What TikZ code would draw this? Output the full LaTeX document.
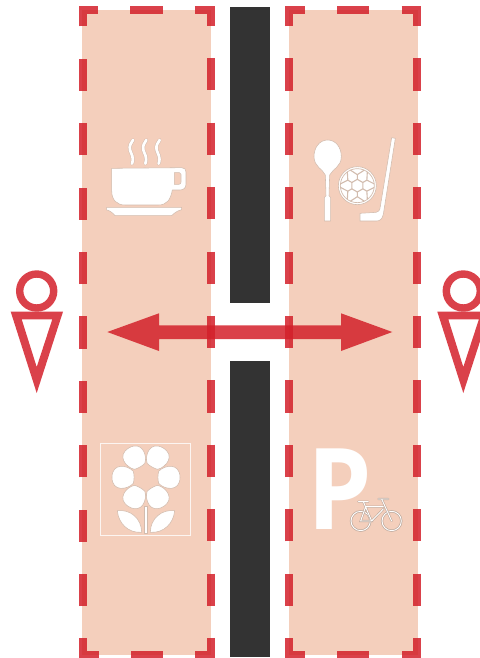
\documentclass[tikz,border=0pt]{standalone}
\usepackage{fontspec}
\newfontfamily\signfont{Open Sans}
\definecolor{peach}{HTML}{F4CFBC}
\definecolor{signred}{HTML}{D3202A}
\definecolor{roadgrey}{HTML}{333333}
\definecolor{iconline}{HTML}{D2BCAE}
\tikzset{
  panel/.style={fill=peach,draw=none},
  road/.style={fill=roadgrey,draw=none},
  dashframe/.style={draw=signred,draw opacity=.85,line width=8pt,miter limit=10,
    dash pattern=on 32.2pt off 32.2pt,dash phase=16.1pt},
  redshape/.style={fill=signred,fill opacity=.85,draw=none},
  headring/.style={draw=signred,draw opacity=.85,line width=7.4pt,fill=none},
  icon/.style={fill=white,draw=iconline,line width=.55pt,line join=round},
  zoomA/.style={shift={(90,120)},x=.3333pt,y=-.3333pt},
  zoomB/.style={shift={(300,125)},x=.3333pt,y=-.3333pt},
  zoomC/.style={shift={(90,435)},x=.3333pt,y=-.3333pt},
  zoomD/.style={shift={(300,435)},x=.3333pt,y=-.3333pt},
  bikeedge/.style={draw=iconline!90!black,line width=2.1pt,line cap=round,fill=none},
  bikecore/.style={draw=white,line width=.9pt,line cap=round,fill=none},
}
\begin{document}
\begin{tikzpicture}[x=1pt,y=-1pt]
\useasboundingbox (0,0) rectangle (479,658);
% panels
\fill[panel] (82,10) rectangle (211,655);
\fill[panel] (289,10) rectangle (418,655);
% road
\fill[road] (230,7) rectangle (270,303);
\fill[road] (230,361) rectangle (270,657);
% dashed frames
\draw[dashframe] (146.6,9.7) -- (210.7,9.7) -- (210.7,654.5) -- (82.5,654.5) -- (82.5,9.7) -- cycle;
\draw[dashframe] (353.3,9.7) -- (417.3,9.7) -- (417.3,654.5) -- (289.3,654.5) -- (289.3,9.7) -- cycle;
% crossing arrow
\fill[redshape] (107.3,332) -- (159,313.3) -- (159,325.3) -- (341,325.3) -- (341,313.3)
  -- (392.3,332) -- (341,351) -- (341,339) -- (159,339) -- (159,351) -- cycle;
% pedestrians
\foreach \px in {36.7,463.3}{
  \draw[headring] (\px,291) circle[radius=17];
  \fill[redshape,even odd rule] (\px-26,311.7) -- (\px+26.3,311.7) -- (\px,393) -- cycle
     (\px-15,319.3) -- (\px+15.6,319.3) -- (\px,367) -- cycle;
}
% cup
\begin{scope}[zoomA]
  \foreach \sx in {125,165,205}{
    \draw[iconline,line width=3.7pt,line cap=round] (\sx+4,60) .. controls (\sx-2,68) and (\sx-8,78) .. (\sx-5,90) .. controls (\sx-2,102) and (\sx+8,110) .. (\sx+1,131);
    \draw[white,line width=2.7pt,line cap=round] (\sx+4,60) .. controls (\sx-2,68) and (\sx-8,78) .. (\sx-5,90) .. controls (\sx-2,102) and (\sx+8,110) .. (\sx+1,131);
  }
  \draw[icon,even odd rule] (65,145) -- (275,143) .. controls (284,143) and (288,148) .. (288,156)
    -- (288,193) .. controls (288,204) and (280,210) .. (270,210) -- (247,210)
    .. controls (242,240) and (230,255) .. (205,255) -- (105,255)
    .. controls (80,255) and (65,240) .. (65,212) -- cycle
    (253,158) -- (268,158) .. controls (272,158) and (273,160) .. (273,163) -- (273,186)
    .. controls (273,191) and (270,193) .. (266,193) -- (253,193) -- cycle;
  \draw[icon] (50,262) -- (275,262) -- (275,269) .. controls (262,272) and (252,280) .. (245,287)
    -- (75,287) .. controls (70,280) and (60,272) .. (50,270) -- cycle;
\end{scope}
% spoon, ball, stick
\begin{scope}[zoomB]
  \draw[icon] (83,45) .. controls (108,45) and (124,68) .. (124,95) .. controls (124,125) and (98,132) .. (89,150)
    -- (87,212) -- (92,218) -- (92,288) -- (73,288) -- (73,218) -- (78,212) -- (76,150)
    .. controls (68,132) and (42,125) .. (42,95) .. controls (42,68) and (58,45) .. (83,45) -- cycle;
  \draw[fill=white,draw=iconline,line width=.6pt] (172,182) circle[radius=57];
  \draw[draw=iconline,line width=.7pt] (172,182) circle[radius=51];
  \begin{scope}[shift={(172,182)}]
    \foreach \a in {30,90,150,210,270,330}{
      \draw[iconline,line width=1.1pt] (\a:19) -- (\a+60:19) (\a:19) -- (\a:33) (\a:33) -- (\a+24:51) (\a:33) -- (\a-24:51);
    }
  \end{scope}
  \draw[icon] (275,38) -- (286,40) -- (250,268) .. controls (247,282) and (240,288) .. (230,288)
    -- (180,288) -- (180,265) -- (228,262) .. controls (236,261) and (239,256) .. (240,250) -- cycle;
\end{scope}
% flower
\begin{scope}[zoomC]
  \draw[draw=white,line width=.9pt,fill=none,opacity=.8] (30,25) rectangle (300,300);
  \foreach \a in {0,60,120,180,240,300}{
    \begin{scope}[shift={(168,127)},rotate=\a]
      \draw[icon] (38,-18) .. controls (56,-38) and (102,-44) .. (102,0)
        .. controls (102,44) and (56,38) .. (38,18) .. controls (35,6) and (35,-6) .. (38,-18) -- cycle;
    \end{scope}
  }
  \draw[icon] (162,215) rectangle (172,294);
  \draw[icon] (82,227) .. controls (120,222) and (155,250) .. (155,292) .. controls (115,295) and (85,265) .. (82,227) -- cycle;
  \draw[icon] (254,227) .. controls (216,222) and (181,250) .. (181,292) .. controls (221,295) and (251,265) .. (254,227) -- cycle;
\end{scope}
% parking sign and bicycle
\node[inner sep=0pt,anchor=base west,text=white,xscale=.91,font=\signfont\bfseries\fontsize{113}{113}\selectfont] (parking) at (307.3,529.5) {P};
\begin{scope}[zoomD]
  \foreach \wx in {182,275}{
    \draw[draw=iconline!90!black,line width=2.3pt] (\wx,258) circle[radius=29];
    \draw[draw=white,line width=.9pt] (\wx,258) circle[radius=29];
  }
  \foreach \layer in {bikeedge,bikecore}{
    \draw[\layer] (175,200) -- (205,200) (190,200) -- (215,258) -- (182,258) -- (197,215) -- (250,215)
      (250,222) -- (215,258) (235,192) -- (265,192) (245,192) -- (275,258);
  }
\end{scope}
\end{tikzpicture}
\end{document}
